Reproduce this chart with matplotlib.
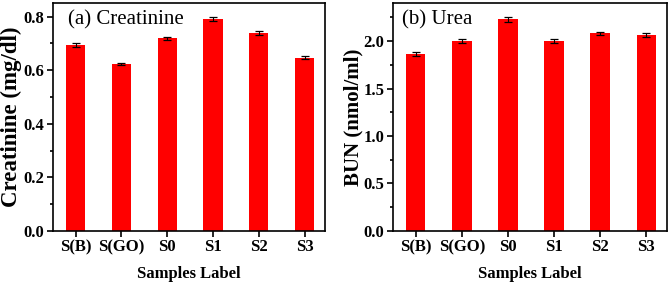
import numpy as np
import matplotlib.pyplot as plt
from matplotlib.ticker import AutoMinorLocator

plt.rcParams["font.family"] = ["Liberation Serif", "DejaVu Serif"]

samples = ["S(B)", "S(GO)", "S0", "S1", "S2", "S3"]

creatinine = [0.694, 0.623, 0.718, 0.791, 0.738, 0.646]
creatinine_err = [0.007, 0.005, 0.007, 0.007, 0.007, 0.005]

bun = [1.86, 2.00, 2.23, 2.00, 2.08, 2.06]
bun_err = [0.02, 0.02, 0.025, 0.02, 0.02, 0.02]

fig = plt.figure(figsize=(6.69, 2.83), dpi=100)
ax1 = fig.add_axes([0.079, 0.184, 0.407, 0.805])
ax2 = fig.add_axes([0.587, 0.184, 0.410, 0.805])

x = np.arange(len(samples))


def draw_panel(ax, vals, errs, ylim, step, ylabel, ylabel_size,
               title, title_x, label_x):
    ax.bar(x, vals, width=0.42, color="#ff0000", yerr=errs, capsize=3,
           error_kw=dict(ecolor="black", elinewidth=0.8, capthick=0.9))
    ax.set_xlim(-0.5, 5.45)
    ax.set_ylim(0, ylim)
    ax.set_yticks(np.arange(0, ylim, step))
    ax.yaxis.set_minor_locator(AutoMinorLocator(2))
    ax.yaxis.set_major_formatter(plt.FormatStrFormatter("%.1f"))
    ax.set_xticks(x)
    ax.set_xticklabels(samples)
    ax.tick_params(axis="both", which="both", direction="out", width=1.2)
    ax.tick_params(axis="both", which="major", length=4, labelsize=12, pad=2)
    ax.tick_params(axis="y", which="minor", length=2.5)
    for lab in ax.get_xticklabels() + ax.get_yticklabels():
        lab.set_fontweight("bold")
    for sp in ax.spines.values():
        sp.set_linewidth(1.2)
    ax.set_ylabel(ylabel, fontsize=ylabel_size, fontweight="bold")
    ax.yaxis.label.set_va("center")
    ax.yaxis.set_label_coords(label_x, 0.5)
    ax.set_xlabel("Samples Label", fontsize=12, fontweight="bold", labelpad=8)
    ax.text(title_x, 0.925, title, transform=ax.transAxes, fontsize=15,
            va="center", ha="left")


draw_panel(ax1, creatinine, creatinine_err, 0.85, 0.2,
           "Creatinine (mg/dl)", 16.5, "(a) Creatinine", 0.055, -0.154)
draw_panel(ax2, bun, bun_err, 2.4, 0.5,
           "BUN (nmol/ml)", 15, "(b) Urea", 0.035, -0.142)

fig.savefig("out.png", dpi=100)
